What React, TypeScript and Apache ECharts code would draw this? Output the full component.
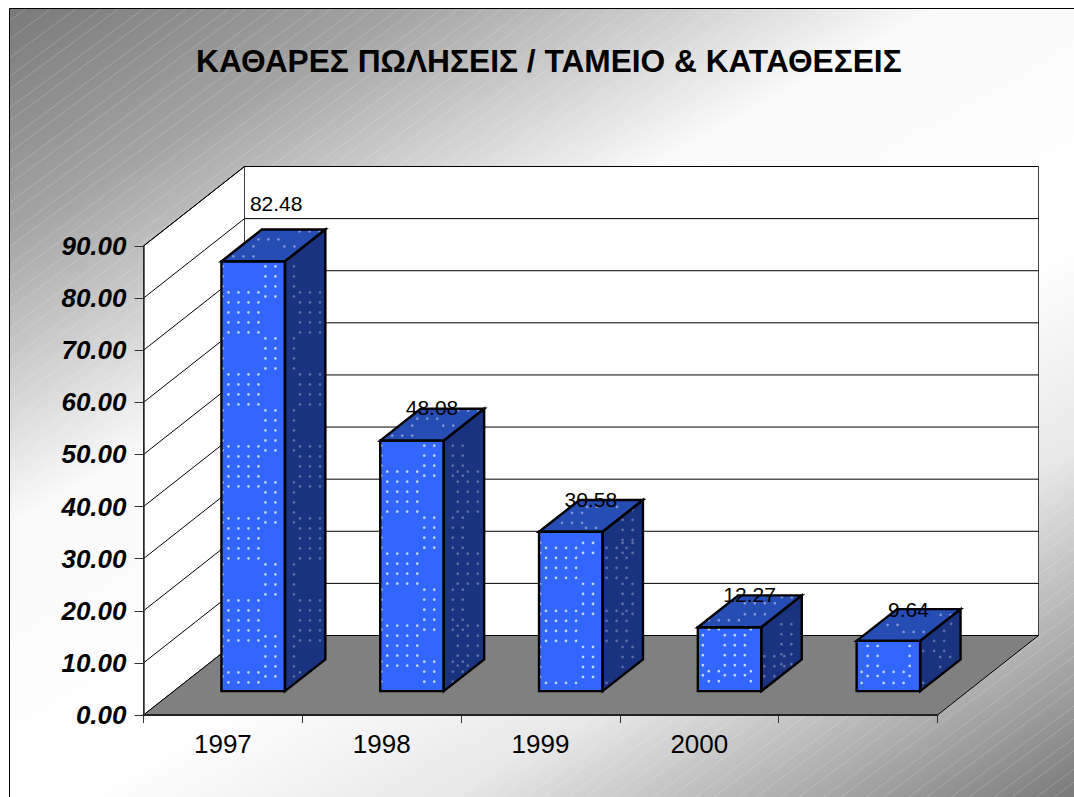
import React, { useEffect, useRef } from "react";
import * as echarts from "echarts";

const TITLE = "ΚΑΘΑΡΕΣ ΠΩΛΗΣΕΙΣ / ΤΑΜΕΙΟ & ΚΑΤΑΘΕΣΕΙΣ";
const categories = ["1997", "1998", "1999", "2000", ""];
const values = [82.48, 48.08, 30.58, 12.27, 9.64];
const labelTexts = ["82.48", "48.08", "30.58", "12.27", "9.64"];
const yTicks = [0, 10, 20, 30, 40, 50, 60, 70, 80, 90];

// label offset from the front face's top centre (px)
const labelDX = [23, 20, 20, 20, 20];
const labelDY = [-58, -33, -32, -33, -31];

const FONT = '"Liberation Sans", Arial, sans-serif';
const DX = 101;
const DY = -79.5;
const F1 = 0.3;
const F2 = 0.7;
const BAR_W = 0.4;

type Block = { cols: number[]; rows: number[] };
const seq = (start: number, n: number) => Array.from({ length: n }, (_, k) => start + k * 10);

const tallA = [[31, 5], [113, 4], [185, 5], [257, 5], [339, 5], [411, 3]];
const tallB = [[5, 4], [77, 4], [149, 5], [221, 5], [303, 4], [375, 5]];
const bar3A = [[16, 4], [79, 4], [151, 1]];
const bar3B = [[11, 2], [52, 4], [115, 4]];

const frontOf = (a: number[][], b: number[][]): Block[] => [
  ...a.map(([s, n]) => ({ cols: [7, 17, 27, 37], rows: seq(s, n) })),
  ...b.map(([s, n]) => ({ cols: [1, 44, 54], rows: seq(s, n) })),
];
const sideOf = (a: number[][], b: number[][], aCols: number[], bCols: number[]): Block[] => [
  ...a.map(([s, n]) => ({ cols: aCols, rows: seq(s, n) })),
  ...b.map(([s, n]) => ({ cols: bCols, rows: seq(s, n) })),
];

const frontDots: Block[][] = [
  frontOf(tallA, tallB),
  frontOf(tallA, tallB),
  frontOf(bar3A, bar3B),
  [
    { cols: [11, 21, 53], rows: [2, 44, 54] },
    { cols: [5, 27, 37, 47], rows: [8, 18, 28, 38, 48] },
  ],
  [
    { cols: [11, 21, 53], rows: [5, 15, 25, 35] },
    { cols: [5, 27, 37, 47], rows: [31, 42] },
  ],
];
const sideDots: Block[][] = [
  sideOf(tallA, tallB, [15, 25, 35], [9]),
  sideOf(tallA, tallB, [14, 24, 34], [9, 19]),
  [
    ...sideOf(bar3A, bar3B, [4, 14, 24], [20, 30]),
    { cols: [20, 30], rows: [-22, -12, -2, 8] },
  ],
  [
    { cols: [20, 30], rows: [-3, 7, 17, 27, 37] },
    { cols: [3, 13, 23], rows: [29, 39, 49] },
  ],
  [
    { cols: [14, 24], rows: [0, 10] },
    { cols: [20, 30], rows: [16, 26] },
    { cols: [3], rows: [10, 42] },
    { cols: [24], rows: [-10] },
    { cols: [31], rows: [-17] },
  ],
];
const tallTop: Block[] = [
  { cols: [12, 22, 32], rows: [-5] },
  { cols: [32], rows: [-15] },
  { cols: [37, 47, 57], rows: [-22] },
  { cols: [63, 73], rows: [-15] },
  { cols: [78, 88, 98], rows: [-30] },
];
const topDots: Block[][] = [
  tallTop,
  tallTop,
  [
    { cols: [23, 33, 43], rows: [-9] },
    { cols: [33, 43], rows: [-19] },
    { cols: [47, 57], rows: [-4] },
    { cols: [48, 58, 78], rows: [-25] },
  ],
  [
    { cols: [11, 21, 31, 41], rows: [-7] },
    { cols: [47, 57, 67], rows: [-13] },
    { cols: [47, 57, 67, 77], rows: [-24] },
    { cols: [84, 94], rows: [-30] },
  ],
  [
    { cols: [31, 41], rows: [-16] },
    { cols: [47, 57, 67], rows: [-9] },
    { cols: [84, 94], rows: [-26] },
  ],
];

function hatchLines() {
  const out: any[] = [];
  const gaps = [18.5, 13];
  let c = 28;
  let k = 0;
  const slope = 0.74;
  while (c < 1600) {
    const x1 = Math.max(10, (c - 797) / slope);
    const x2 = Math.min(1074, (c - 9) / slope);
    if (x2 > x1) {
      out.push({
        type: "line",
        z: -1,
        silent: true,
        shape: { x1, y1: c - slope * x1, x2, y2: c - slope * x2 },
        style: { stroke: "rgba(255,255,255,0.24)", lineWidth: 0.8 },
      });
    }
    c += k < 3 ? 18.5 : gaps[k % 2];
    k += 1;
  }
  return out;
}

function renderWalls(params: any, api: any) {
  const v = api.value(1);
  const band = api.size([1, 0])[0];
  const left = api.coord([0, v])[0] - band / 2;
  const right = api.coord([categories.length - 1, v])[0] + band / 2;
  const y = api.coord([0, v])[1];
  const children: any[] = [];
  if (v === 0) {
    const top = api.coord([0, yTicks[yTicks.length - 1]])[1];
    children.push({
      type: "polygon",
      shape: { points: [[left, y], [left, top], [left + DX, top + DY], [left + DX, y + DY]] },
      style: { fill: "#fff", stroke: "#000", lineWidth: 1 },
    });
    children.push({
      type: "polygon",
      shape: { points: [[left + DX, y + DY], [left + DX, top + DY], [right + DX, top + DY], [right + DX, y + DY]] },
      style: { fill: "#fff", stroke: "#444", lineWidth: 1 },
    });
    children.push({
      type: "polygon",
      shape: { points: [[left, y], [right, y], [right + DX, y + DY], [left + DX, y + DY]] },
      style: { fill: "#808080", stroke: "#000", lineWidth: 1 },
    });
  } else {
    children.push({
      type: "polyline",
      shape: { points: [[left, y], [left + DX, y + DY], [right + DX, y + DY]] },
      style: { fill: "none", stroke: "#000", lineWidth: 1 },
    });
  }
  return { type: "group", children };
}

function dots(blocks: Block[], ox: number, oy: number, fill: string, inside: (x: number, y: number) => boolean) {
  const out: any[] = [];
  for (const b of blocks) {
    for (const c of b.cols) {
      for (const r of b.rows) {
        const x = ox + c;
        const y = oy + r;
        if (inside(x, y)) {
          out.push({ type: "circle", shape: { cx: x, cy: y, r: 1.35 }, style: { fill } });
        }
      }
    }
  }
  return out;
}

function renderBar(params: any, api: any) {
  const i = api.value(0);
  const v = api.value(1);
  const base = api.coord([i, 0]);
  const top = api.coord([i, v]);
  const band = api.size([1, 0])[0];
  const w = band * BAR_W;
  const h = base[1] - top[1];
  const x0 = base[0] - w / 2 + F1 * DX;
  const y0 = base[1] + F1 * DY;
  const x1 = x0 + w;
  const yT = y0 - h;
  const sx = (F2 - F1) * DX;
  const sy = (F2 - F1) * DY;
  const k = sy / sx;
  const children: any[] = [
    {
      type: "polygon",
      shape: { points: [[x0, yT], [x1, yT], [x1, y0], [x0, y0]] },
      style: { fill: "#3366ff", stroke: "none" },
    },
    {
      type: "polygon",
      shape: { points: [[x1, yT], [x1 + sx, yT + sy], [x1 + sx, y0 + sy], [x1, y0]] },
      style: { fill: "#1a3380", stroke: "none" },
    },
    {
      type: "polygon",
      shape: { points: [[x0, yT], [x0 + sx, yT + sy], [x1 + sx, yT + sy], [x1, yT]] },
      style: { fill: "#264db3", stroke: "none" },
    },
  ];
  children.push(
    ...dots(frontDots[i], x0, yT, "rgba(225,235,255,0.85)", (x, y) => x > x0 && x < x1 && y > yT + 1 && y < y0 - 2),
    ...dots(sideDots[i], x1, yT, "rgba(255,255,255,0.3)", (x, y) => {
      const d = x - x1;
      return d > 1 && d < sx - 1 && y > yT + d * k + 1 && y < y0 + d * k - 1;
    }),
    ...dots(topDots[i], x0, yT, "rgba(255,255,255,0.42)", (x, y) => {
      const d = yT - y;
      return d > 1 && d < -sy - 1 && x > x0 + d * (sx / -sy) + 1 && x < x1 + d * (sx / -sy) - 1;
    })
  );
  const edge = { fill: "none", stroke: "#000", lineWidth: 2.4 };
  children.push(
    { type: "polygon", shape: { points: [[x0, yT], [x1, yT], [x1, y0], [x0, y0]] }, style: edge },
    { type: "polygon", shape: { points: [[x1, yT], [x1 + sx, yT + sy], [x1 + sx, y0 + sy], [x1, y0]] }, style: edge },
    { type: "polygon", shape: { points: [[x0, yT], [x0 + sx, yT + sy], [x1 + sx, yT + sy], [x1, yT]] }, style: edge },
    {
      type: "text",
      style: {
        text: labelTexts[i],
        x: (x0 + x1) / 2 + labelDX[i],
        y: yT + labelDY[i],
        fill: "#000",
        fontFamily: FONT,
        fontSize: 21,
        align: "center",
        verticalAlign: "middle",
      },
    }
  );
  return { type: "group", children };
}

export default function App() {
  const ref = useRef<HTMLDivElement>(null);
  useEffect(() => {
    document.body.style.margin = "0";
    const chart = echarts.init(ref.current!, null, { renderer: "svg" });
    const bg = new echarts.graphic.LinearGradient(
      0, 0, 592, 1065,
      [
        { offset: 0, color: "#777777" },
        { offset: 0.17, color: "#a4a4a4" },
        { offset: 0.38, color: "#fafafa" },
        { offset: 0.6, color: "#ffffff" },
        { offset: 0.75, color: "#e8e8e8" },
        { offset: 0.88, color: "#b0b0b0" },
        { offset: 1, color: "#7a7a7a" },
      ],
      true
    );
    chart.setOption({
      animation: false,
      backgroundColor: "#ffffff",
      title: {
        text: TITLE,
        left: 191,
        top: 40,
        textStyle: { fontFamily: FONT, fontSize: 31.7, fontWeight: "bold", color: "#000" },
      },
      graphic: [
        {
          type: "rect",
          z: -2,
          silent: true,
          shape: { x: 9.5, y: 8.5, width: 1200, height: 900 },
          style: { fill: bg, stroke: "#000", lineWidth: 1 },
        },
        ...hatchLines(),
      ],
      grid: { left: 143.5, top: 246, width: 794, height: 469 },
      xAxis: {
        type: "category",
        data: categories,
        z: 5,
        axisLine: { lineStyle: { color: "#222", width: 2 } },
        axisTick: { show: true, alignWithLabel: false, interval: 0, length: 8, lineStyle: { color: "#333", width: 1 } },
        axisLabel: { color: "#000", fontFamily: FONT, fontSize: 26, margin: 16, interval: 0 },
        splitLine: { show: false },
      },
      yAxis: {
        type: "value",
        min: 0,
        max: 90,
        interval: 10,
        z: 5,
        axisLine: { show: true, lineStyle: { color: "#333", width: 1.5 } },
        axisTick: { show: true, length: 9, lineStyle: { color: "#333", width: 1 } },
        axisLabel: {
          color: "#000",
          fontFamily: FONT,
          fontSize: 26,
          fontWeight: "bold",
          fontStyle: "italic",
          margin: 17,
          formatter: (v: number) => v.toFixed(2),
        },
        splitLine: { show: false },
      },
      series: [
        {
          type: "custom",
          z: 2,
          silent: true,
          renderItem: renderWalls,
          encode: { x: 0, y: 1 },
          data: yTicks.map((t) => [0, t]),
        },
        {
          type: "custom",
          z: 3,
          silent: true,
          renderItem: renderBar,
          encode: { x: 0, y: 1 },
          data: values.map((v, i) => [i, v]),
        },
      ],
    });
    return () => chart.dispose();
  }, []);
  return <div ref={ref} style={{ position: "absolute", left: 0, top: 0, width: 1074, height: 797, overflow: "hidden" }} />;
}
